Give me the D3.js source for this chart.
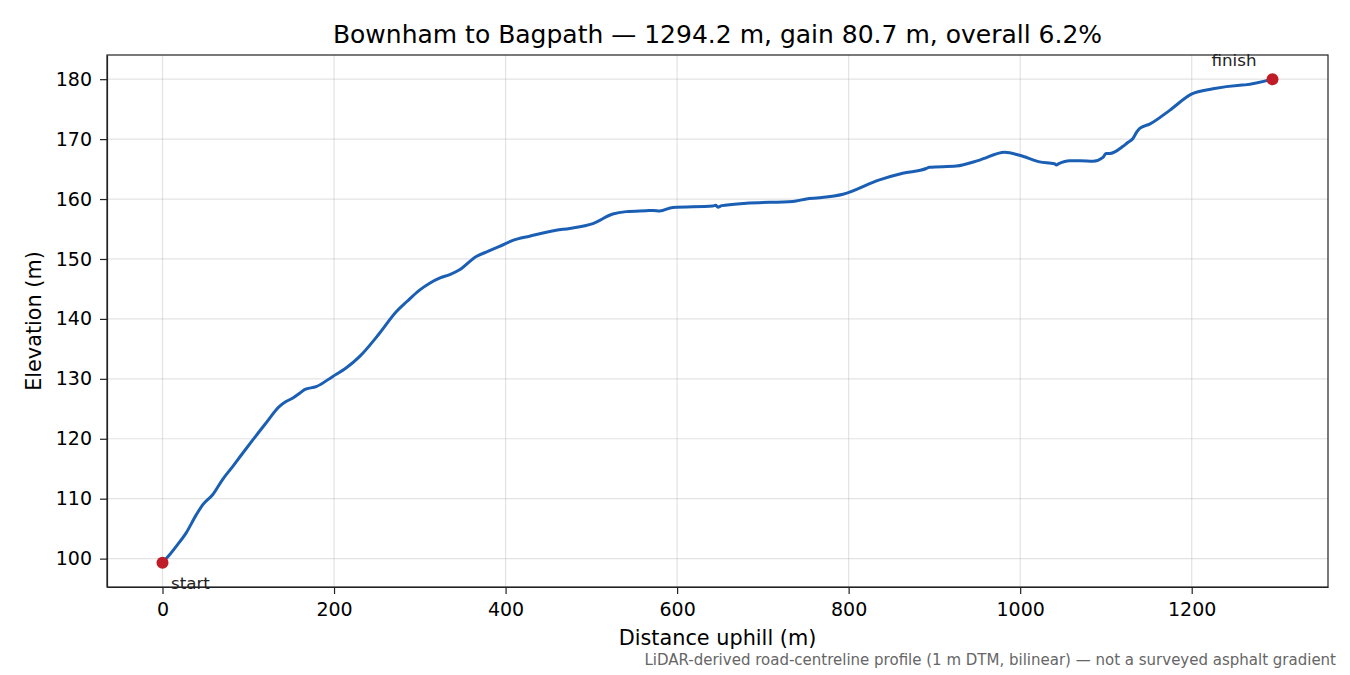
<!DOCTYPE html>
<html>
<head>
<meta charset="utf-8">
<script src="https://cdn.jsdelivr.net/npm/d3@7"></script>
<style>
  body { margin: 0; background: #fff; }
  svg text { font-family: "DejaVu Sans", sans-serif; fill: #000; }
  .grid line { stroke: #b0b0b0; stroke-opacity: 0.35; stroke-width: 1.2; }
  .axis path, .axis line { stroke: #222; stroke-width: 1.2; }
  .axis text { font-size: 19px; }
</style>
</head>
<body>
<svg id="chart" width="1350" height="675"></svg>
<script>
/* profile samples */
const distance = [0, 8, 16, 27.6, 39.3, 47, 58.7, 70, 82, 93, 105.3, 120, 136.4, 144, 152, 160, 165.6, 179.2,
  198.6, 214, 229.7, 253, 272.5, 285, 299.7, 312, 323, 335, 346.4, 365.8, 380, 393, 408.5, 428,
  459, 474.6, 501.8, 525, 540.7, 564, 572, 579.6, 595, 641.7, 645, 647.6, 652, 680.7, 735, 750.7,
  766, 793.4, 836, 863, 890.6, 894, 925.6, 952.8, 981.9, 999.4, 1022.7, 1040, 1042.2, 1045,
  1057.7, 1070, 1085, 1096.6, 1100, 1104.4, 1119.9, 1125, 1131.5, 1136, 1139.4, 1151, 1174.3,
  1199.6, 1224.8, 1256, 1262, 1294.2];
const elevation = [99.3, 100.6, 102.05, 104.3, 107.3, 109, 110.7, 113.2, 115.4, 117.5, 119.8, 122.5,
  125.4, 126.2, 126.8, 127.6, 128.2, 128.7, 130.4, 131.8, 133.7, 137.6, 141.2, 142.9, 144.8, 146.0, 146.8, 147.4,
  148.2, 150.4, 151.3, 152.1, 153.1, 153.8, 154.8, 155.1, 155.9, 157.5, 157.9, 158.05, 158.1,
  158.0, 158.6, 158.85, 158.95, 158.65, 158.9, 159.3, 159.6, 160.0, 160.2, 160.8, 163.2, 164.3,
  165.1, 165.3, 165.5, 166.5, 167.8, 167.3, 166.2, 165.9, 165.7, 165.9, 166.4, 166.4, 166.3,
  166.95, 167.6, 167.6, 168.8, 169.4, 170.1, 171.2, 171.8, 172.5, 174.8, 177.5, 178.4, 179.0,
  179.05, 180.0];
const xTicks = [0, 200, 400, 600, 800, 1000, 1200];
const yTicks = [100, 110, 120, 130, 140, 150, 160, 170, 180];
const titleText = "Bownham to Bagpath \u2014 1294.2 m, gain 80.7 m, overall 6.2%";
const noteText = "LiDAR-derived road-centreline profile (1 m DTM, bilinear) \u2014 not a surveyed asphalt gradient";

const LINE_COLOR = "#1a5fb4";
const DOT_COLOR = "#c01c28";

const margin = { left: 107, right: 22, top: 55, bottom: 88 };
const W = 1350, H = 675;
const innerW = W - margin.left - margin.right;
const innerH = H - margin.top - margin.bottom;

/* matplotlib-style 5% padding on the data range */
const dMin = d3.min(distance), dMax = d3.max(distance);
const eMin = d3.min(elevation), eMax = d3.max(elevation);
const dPad = (dMax - dMin) * 0.05, ePad = (eMax - eMin) * 0.05;

const x = d3.scaleLinear().domain([dMin - dPad, dMax + dPad]).range([0, innerW]);
const y = d3.scaleLinear().domain([eMin - ePad, eMax + ePad]).range([innerH, 0]);

const svg = d3.select("#chart");
const g = svg.append("g").attr("transform", `translate(${margin.left},${margin.top})`);

/* grid */
const grid = g.append("g").attr("class", "grid");
grid.selectAll(".gx").data(xTicks).join("line")
  .attr("x1", d => x(d)).attr("x2", d => x(d))
  .attr("y1", 0).attr("y2", innerH);
grid.selectAll(".gy").data(yTicks).join("line")
  .attr("x1", 0).attr("x2", innerW)
  .attr("y1", d => y(d)).attr("y2", d => y(d));

/* profile line */
const pts = distance.map((d, i) => [d, elevation[i]]);
g.append("path")
  .datum(pts)
  .attr("fill", "none")
  .attr("stroke", LINE_COLOR)
  .attr("stroke-width", 3)
  .attr("stroke-linejoin", "round")
  .attr("d", d3.line().curve(d3.curveMonotoneX).x(d => x(d[0])).y(d => y(d[1])));

/* start / finish markers */
const ends = [
  { label: "start", d: distance[0], e: elevation[0], dx: 8.5, dy: 26, anchor: "start" },
  { label: "finish", d: distance[distance.length - 1], e: elevation[elevation.length - 1], dx: -16, dy: -13, anchor: "end" }
];
ends.forEach(p => {
  g.append("circle")
    .attr("cx", x(p.d)).attr("cy", y(p.e))
    .attr("r", 6)
    .attr("fill", DOT_COLOR);
  g.append("text")
    .attr("x", x(p.d) + p.dx).attr("y", y(p.e) + p.dy)
    .attr("text-anchor", p.anchor)
    .style("font-size", "16.7px")
    .style("fill", "#222")
    .text(p.label);
});

/* axes */
g.append("g").attr("class", "axis")
  .attr("transform", `translate(0,${innerH})`)
  .call(d3.axisBottom(x).tickValues(xTicks).tickFormat(d3.format("d")).tickSizeInner(7).tickSizeOuter(0).tickPadding(9));
g.append("g").attr("class", "axis")
  .call(d3.axisLeft(y).tickValues(yTicks).tickFormat(d3.format("d")).tickSizeInner(7).tickSizeOuter(0).tickPadding(8));

/* frame */
g.append("rect")
  .attr("width", innerW).attr("height", innerH)
  .attr("fill", "none").attr("stroke", "#222").attr("stroke-width", 1.2);

/* texts */
svg.append("text")
  .attr("x", margin.left + innerW / 2).attr("y", 43)
  .attr("text-anchor", "middle")
  .style("font-size", "25px")
  .text(titleText);
svg.append("text")
  .attr("x", margin.left + innerW / 2).attr("y", 645)
  .attr("text-anchor", "middle")
  .style("font-size", "20.8px")
  .text("Distance uphill (m)");
svg.append("text")
  .attr("transform", `translate(41,${margin.top + innerH / 2}) rotate(-90)`)
  .attr("text-anchor", "middle")
  .style("font-size", "20.8px")
  .text("Elevation (m)");
svg.append("text")
  .attr("x", 1336).attr("y", 665)
  .attr("text-anchor", "end")
  .style("font-size", "15px")
  .style("fill", "#666")
  .text(noteText);
</script>
</body>
</html>
